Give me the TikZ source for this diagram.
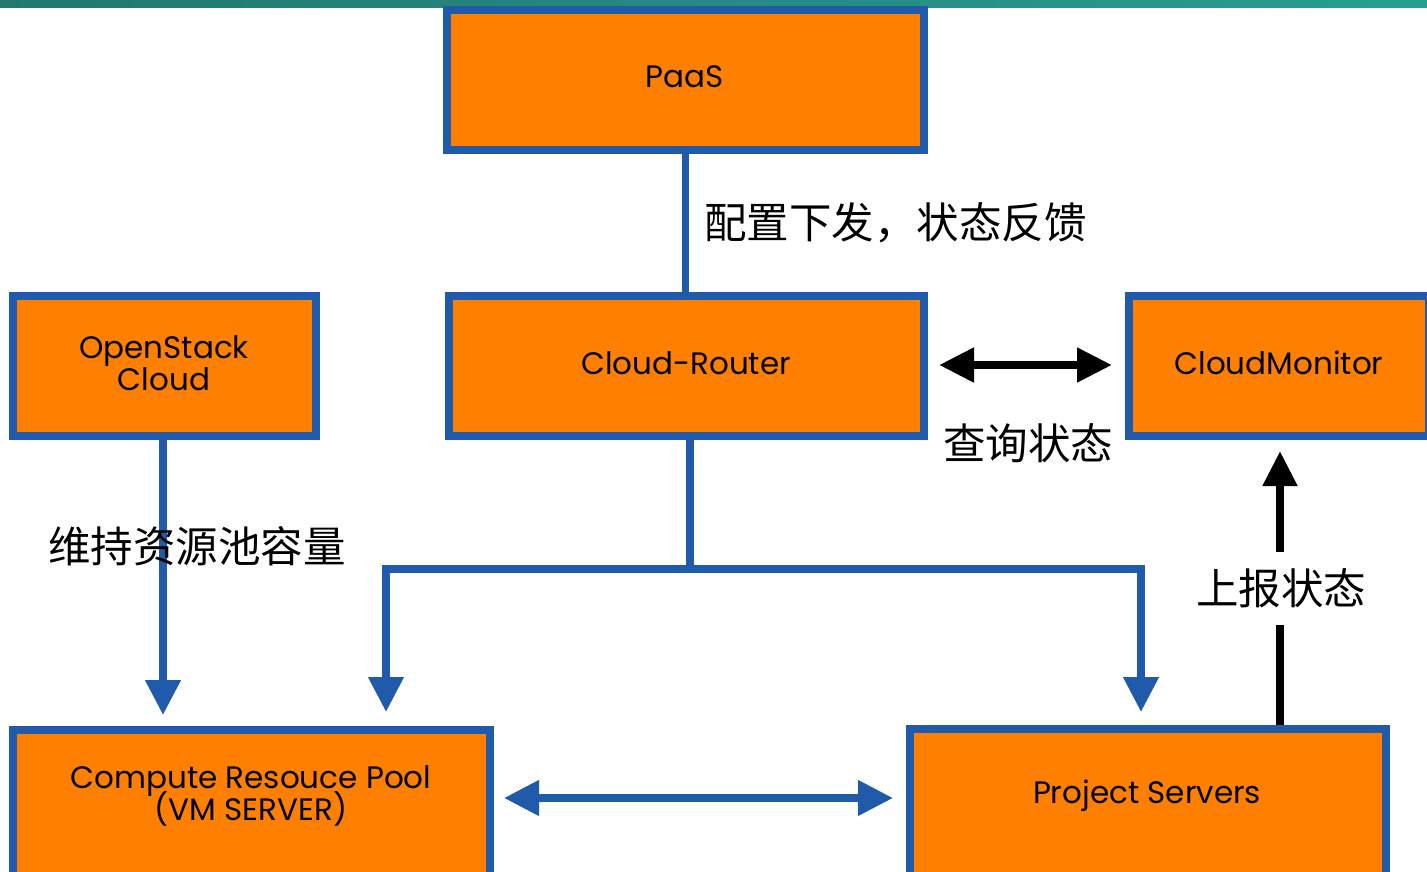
\documentclass[tikz,border=0pt]{standalone}
\usepackage{fontspec}
\setmainfont{Poppins}
\newfontfamily\cjk{Noto Sans CJK SC}
\usetikzlibrary{arrows.meta}
\definecolor{boxorange}{HTML}{FF8000}
\definecolor{boxblue}{HTML}{1F5BAA}
\definecolor{tealA}{HTML}{23776E}
\definecolor{tealB}{HTML}{2A9D92}
\newcommand{\boxfont}{\fontsize{31}{32}\selectfont\setlength{\lineskiplimit}{-20pt}\setlength{\lineskip}{0pt}}
\begin{document}
\begin{tikzpicture}[x=1pt,y=-1pt,
  box/.style={draw=boxblue, fill=boxorange, line width=8pt, rectangle, inner sep=0pt},
  boxtext/.style={font=\boxfont, align=center, inner sep=0pt},
  cjklabel/.style={font=\cjk\fontsize{42.5}{44}\selectfont, inner sep=0pt},
  bluearrow/.style={draw=boxblue, line width=7.5pt},
  blacktip/.style={-{Triangle[length=35pt,width=33pt]}},
  bluetip/.style={-{Triangle[length=35pt,width=34pt]}}
]
\clip (0,0) rectangle (1427,871);
\fill[white] (0,0) rectangle (1427,871);
% top band
\shade[left color=tealA, right color=tealB] (0,0) rectangle (1427,7);

% boxes
\node[box, minimum width=477pt, minimum height=140pt] (paas) at (685.5,80) {};
\node[box, minimum width=475pt, minimum height=140pt] (router) at (686.5,366) {};
\node[box, minimum width=303pt, minimum height=140pt] (os) at (164.5,366) {};
\node[box, minimum width=300pt, minimum height=140pt] (monitor) at (1279,366) {};
\node[box, minimum width=477pt, minimum height=170pt] (compute) at (251.5,815) {};
\node[box, minimum width=476pt, minimum height=170pt] (project) at (1148,814) {};
\node[boxtext] (paasText) at (685,77) {PaaS};
\node[boxtext] (routerText) at (686,363) {Cloud-Router};
\node[boxtext] (osText) at (164,363) {OpenStack\\Cloud};
\node[boxtext] (monitorText) at (1279,363) {CloudMonitor};
\node[boxtext] (computeText) at (251,796) {Compute Resouce Pool\\(VM SERVER)};
\node[boxtext] (projectText) at (1147,796) {Project Servers};

% PaaS -- Cloud-Router
\draw[bluearrow] (paas.south) -- (paas.south |- router.north);
\node[cjklabel, anchor=west] (cfg) at (704,223) {配置下发，状态反馈};

% Cloud-Router split
\coordinate (split) at (690,569);
\coordinate (ctip) at (386,712);
\coordinate (ptip) at (1141,712);
\draw[bluearrow, bluetip] (router.south -| split) -- (split) -| (ctip);
\draw[bluearrow, bluetip] (split) -| (ptip);

% OpenStack -> Compute
\coordinate (ostip) at (163,715);
\draw[bluearrow, bluetip] (os.south -| ostip) -- (ostip);
\node[cjklabel] (keep) at (197,546) {维持资源池容量};

% Router <-> Monitor
\coordinate (q) at (0,365);
\draw[line width=8pt, {Triangle[length=35pt,width=33pt]}-{Triangle[length=35pt,width=33pt]},
  shorten <=11pt, shorten >=13pt] (router.east |- q) -- (monitor.west |- q);
\node[cjklabel] (query) at (1028,443) {查询状态};

% Project -> Monitor
\coordinate (mtip) at (1280,451);
\draw[line width=8pt, blacktip] (project.north -| mtip) -- (mtip);
\node[cjklabel, fill=white, minimum height=73pt, inner xsep=0pt] (report) at (1281,588) {上报状态};

% Compute <-> Project
\coordinate (dbl) at (0,798);
\draw[bluearrow, {Triangle[length=35pt,width=34pt]}-{Triangle[length=35pt,width=34pt]},
  shorten <=10pt, shorten >=13pt] (compute.east |- dbl) -- (project.west |- dbl);
\end{tikzpicture}
\end{document}
